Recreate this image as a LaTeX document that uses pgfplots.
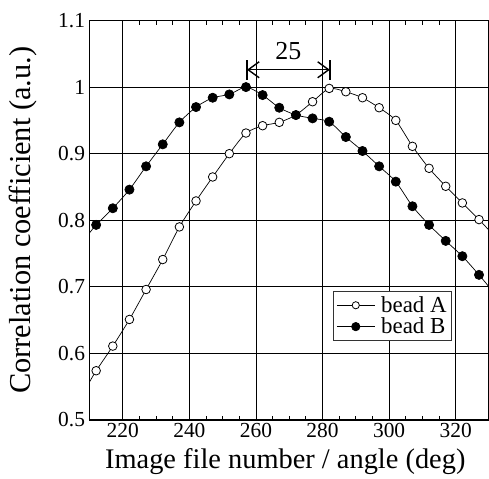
\documentclass[border=0pt]{standalone}
\usepackage{pgfplots}
\pgfplotsset{compat=1.18}
\usepackage{fontspec}
\setmainfont{Liberation Serif}
\usetikzlibrary{arrows.meta}
\begin{document}
\begin{tikzpicture}
\useasboundingbox (-89.5bp,-59bp) rectangle (399.5bp,420bp);
\begin{axis}[
  at={(0,0)}, anchor=south west,
  scale only axis,
  width=399.5bp, height=399.5bp,
  xmin=210, xmax=330, ymin=0.5, ymax=1.1,
  xtick={220,240,...,320},
  ytick={0.5,0.6,...,1.1},
  minor x tick num=3,
  xtick pos=both, ytick pos=left,
  tick align=inside,
  major tick length=0pt,
  minor tick length=4bp,
  grid=major,
  major grid style={black, line width=0.9bp},
  axis line style={line width=1.6bp},
  every tick/.style={black, line width=0.8bp},
  /pgf/number format/assume math mode=true,
  tick label style={font=\fontsize{21.5}{25}\selectfont},
  yticklabel style={xshift=-1bp},
  xlabel={Image file number / angle (deg)},
  ylabel={Correlation coefficient (a.u.)},
  xlabel style={font=\fontsize{28.5}{32}\selectfont, at={(axis description cs:0.49,-0.105)}, anchor=center},
  ylabel style={font=\fontsize{30.5}{34}\selectfont, at={(axis description cs:-0.166,0.5)}, anchor=center},
  clip=false,
  legend style={at={(0.908,0.323)}, anchor=north east,
    font=\fontsize{23}{24}\selectfont, draw=black!80, line width=1.2bp,
    inner sep=3bp, row sep=0bp, cells={anchor=west},
    /tikz/every odd column/.append style={column sep=4bp}},
  legend image code/.code={%
    \draw[mark repeat=2, mark phase=2, #1] plot coordinates {(0bp,0bp)(19bp,0bp)(38bp,0bp)};},
]
\addplot[forget plot, black, line width=0.7bp, smooth, tension=0.4, mark=*, mark indices={2,...,25},
  mark options={fill=white, draw=black, line width=0.8bp, solid}, mark size=4.3bp]
coordinates {
(210,0.557)(212,0.574)(217,0.611)(222,0.651)(227,0.696)(232,0.741)(237,0.790)
(242,0.829)(247,0.865)(252,0.900)(257,0.931)(262,0.942)(267,0.947)(272,0.958)
(277,0.978)(282,0.998)(287,0.993)(292,0.984)(297,0.969)(302,0.950)(307,0.911)
(312,0.878)(317,0.851)(322,0.826)(327,0.801)(330,0.785)};
\addplot[forget plot, black, line width=0.7bp, smooth, tension=0.4, mark=*, mark indices={2,...,25},
  mark options={fill=black, draw=black, solid}, mark size=4.6bp]
coordinates {
(210,0.781)(212,0.793)(217,0.818)(222,0.846)(227,0.881)(232,0.914)(237,0.947)
(242,0.970)(247,0.984)(252,0.989)(257,1.000)(262,0.988)(267,0.969)(272,0.958)
(277,0.953)(282,0.948)(287,0.925)(292,0.904)(297,0.881)(302,0.858)(307,0.821)
(312,0.793)(317,0.769)(322,0.746)(327,0.718)(330,0.700)};
\addlegendimage{black, line width=0.7bp, mark=*, mark indices={2}, mark options={fill=white, draw=black, line width=0.8bp, solid}, mark size=3.6bp}
\addlegendentry{bead A}
\addlegendimage{black, line width=0.7bp, mark=*, mark indices={2}, mark options={fill=black, draw=black, solid}, mark size=4.2bp}
\addlegendentry{bead B}
\draw[line width=1.6bp] (axis cs:257.3,1.011) -- (axis cs:257.3,1.041);
\draw[line width=1.6bp] (axis cs:282.2,1.011) -- (axis cs:282.2,1.041);
\draw[line width=1.4bp, {Straight Barb[length=11bp,width=16bp]}-{Straight Barb[length=11bp,width=16bp]}]
  (axis cs:257.3,1.026) -- (axis cs:282.2,1.026);
\node[font=\fontsize{26}{28}\selectfont] at (axis cs:269.7,1.054) {25};
\end{axis}
\end{tikzpicture}
\end{document}
